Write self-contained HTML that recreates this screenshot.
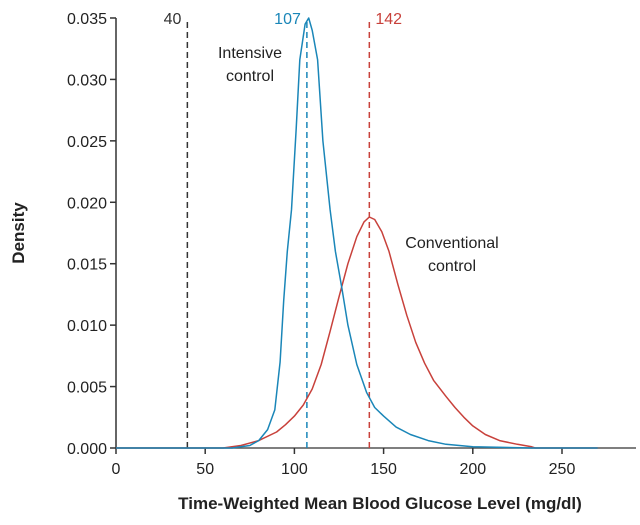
<!DOCTYPE html>
<html><head><meta charset="utf-8"><style>
body{margin:0;background:#fff}
svg{font-family:"Liberation Sans",sans-serif}
</style></head><body>
<svg id="c" width="640" height="520" viewBox="0 0 640 520" xmlns="http://www.w3.org/2000/svg"></svg>
<script>
const xTicks=[0,50,100,150,200,250];
const yTicks=[0,0.005,0.010,0.015,0.020,0.025,0.030,0.035];
const yTickLabels=["0.000","0.005","0.010","0.015","0.020","0.025","0.030","0.035"];
const intX=[65,70,75,80,85,89,92,94,96,98.4,101,103,106,108,110,113,116,120,123,126.5,130,135,140.5,145,150,157,165,175,185,200,233];
const intY=[0,0.0001,0.0002,0.0006,0.0015,0.0031,0.007,0.012,0.016,0.0194,0.026,0.0316,0.0345,0.035,0.034,0.0316,0.025,0.0194,0.016,0.0131,0.010,0.0068,0.0045,0.0033,0.0026,0.0017,0.0011,0.0006,0.0003,0.0001,0];
const conX=[60,70,80,90,95,100,105,110,115,120,125,130,135,139,142,145,149,153,158,163,168,173,178,185,190,195,200,207,215,225,233,235];
const conY=[0,0.0002,0.0006,0.0013,0.0019,0.0026,0.0035,0.0048,0.0068,0.0095,0.0123,0.015,0.0172,0.0184,0.0188,0.0186,0.0176,0.016,0.0133,0.0108,0.0086,0.0069,0.0055,0.0042,0.0033,0.0025,0.0018,0.0011,0.0006,0.0003,0.0001,0];
const refLines=[40,107,142];
const refLabels=["40","107","142"];
const refColors=["#333","#1a86b8","#c8413b"];
const sx=v=>116+v*1.784;
const sy=v=>448-v/0.005*61.43;
const svg=document.getElementById('c');
const NS="http://www.w3.org/2000/svg";
function mk(t,a,txt){const e=document.createElementNS(NS,t);for(const k in a)e.setAttribute(k,a[k]);if(txt!==undefined)e.textContent=txt;svg.appendChild(e);return e;}
let e;
e=mk('line',{x1:116,y1:sy(0.035),x2:116,y2:448,stroke:'#333','stroke-width':1.5});


e=mk('line',{x1:116,y1:448,x2:636,y2:448,stroke:'#555','stroke-width':1.5});


yTicks.forEach((v,i)=>{
 e=mk('line',{x1:110,y1:sy(v),x2:116,y2:sy(v),stroke:'#333','stroke-width':1.5});
 
 
 e=mk('text',{x:107,y:sy(v)+6,'text-anchor':'end','font-size':16,fill:'#222'},yTickLabels[i]);
 
 
});
xTicks.forEach(v=>{
 e=mk('line',{x1:sx(v),y1:448,x2:sx(v),y2:454,stroke:'#333','stroke-width':1.5});
 
 
 e=mk('text',{x:sx(v),y:474,'text-anchor':'middle','font-size':16,fill:'#222'},String(v));
 
 
});
refLines.forEach((v,i)=>{
 e=mk('line',{x1:sx(v),y1:22,x2:sx(v),y2:448,stroke:refColors[i],'stroke-width':1.5,'stroke-dasharray':'6,4'});
 
 
 const anc=i==2?'start':'end';
 e=mk('text',{x:i==2?sx(v)+6:sx(v)-6,y:24,'text-anchor':anc,'font-size':16,fill:refColors[i]},refLabels[i]);
 
 
});
function path(xs,ys){let d='M'+sx(0)+','+sy(0);xs.forEach((x,i)=>{d+=' L'+sx(x).toFixed(1)+','+sy(ys[i]).toFixed(1);});d+=' L'+sx(270)+','+sy(0);return d;}
e=mk('path',{d:path(conX,conY),fill:'none',stroke:'#c8413b','stroke-width':1.5,'stroke-linejoin':'round'});


e=mk('path',{d:path(intX,intY),fill:'none',stroke:'#1a86b8','stroke-width':1.5,'stroke-linejoin':'round'});


e=mk('text',{x:250,y:58,'text-anchor':'middle','font-size':16,fill:'#222'},'Intensive');


e=mk('text',{x:250,y:81,'text-anchor':'middle','font-size':16,fill:'#222'},'control');


e=mk('text',{x:452,y:248,'text-anchor':'middle','font-size':16,fill:'#222'},'Conventional');


e=mk('text',{x:452,y:271,'text-anchor':'middle','font-size':16,fill:'#222'},'control');


e=mk('text',{x:380,y:509,'text-anchor':'middle','font-size':17,'font-weight':'bold',fill:'#222'},'Time-Weighted Mean Blood Glucose Level (mg/dl)');


e=mk('text',{x:0,y:0,'text-anchor':'middle','font-size':17,'font-weight':'bold',fill:'#222',transform:'translate(24,233) rotate(-90)'},'Density');


</script>
</body></html>
